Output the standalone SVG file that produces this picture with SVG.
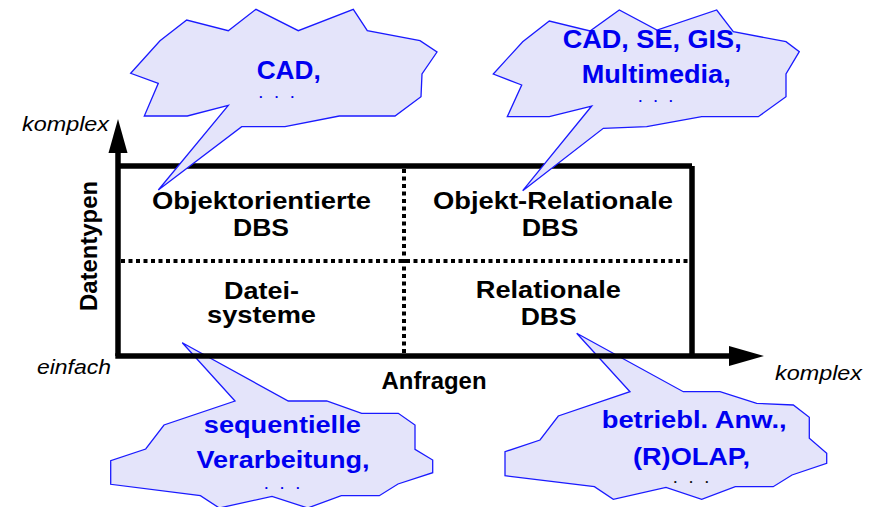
<svg xmlns="http://www.w3.org/2000/svg" width="883" height="507" viewBox="0 0 883 507">
<style>
.cloud{fill:#e4e4fa;stroke:#1a1aff;stroke-width:1.3;stroke-linejoin:miter}
.lbl{font-family:"Liberation Sans",Arial,sans-serif;font-weight:bold;font-size:23.5px;fill:#000;text-anchor:middle}
.ctx{font-family:"Liberation Sans",Arial,sans-serif;font-weight:bold;fill:#0000f0;text-anchor:middle}
.ax{font-family:"Liberation Sans",Arial,sans-serif;font-style:italic;font-size:20.5px;fill:#000}
.dots{font-family:"Liberation Sans",Arial,sans-serif;font-weight:bold;font-size:13px;text-anchor:middle}
.grid{stroke:#000;stroke-width:4;stroke-dasharray:4 3.5;fill:none}
.thick{stroke:#000;stroke-width:5.5;fill:none}
</style>
<rect width="883" height="507" fill="#fff"/>

<!-- bottom clouds (behind box lines) -->
<g id="cloud-sequentiell">
<polygon class="cloud" points="182.3,342.7 288.3,401 326.7,401 361.7,413.3 398.3,413.3 415,425 415,449.3 432.7,460 432.7,472.7 398,484 379.3,495.7 341.3,495.7 307.7,508 272,496.3 219.3,508 200.4,495.7 110.7,484.3 110.7,460.7 145.7,449 164,425 235,401"/>
<text class="ctx" x="282.3" y="433.3" font-size="24" textLength="157" lengthAdjust="spacingAndGlyphs">sequentielle</text>
<text class="ctx" x="283" y="468.3" font-size="24" textLength="173" lengthAdjust="spacingAndGlyphs">Verarbeitung,</text>
<text class="dots" x="282" y="489" fill="#0000f0" textLength="35" lengthAdjust="spacing">. . .</text>
</g>
<g id="cloud-betrieblich">
<polygon class="cloud" points="576.7,333.3 683.3,391.7 720,391.7 756.7,403.3 793.3,405 809.3,417.3 809.3,438.3 826.7,453.3 826.7,463.3 792,475 773.2,486.7 735.3,486.7 701.7,499.3 666,487.3 613.3,499.3 594.4,486.7 505,475.7 505,451.7 540,440 558.3,416 630,391.7"/>
<text class="ctx" x="694.2" y="428.3" font-size="24.5" textLength="185" lengthAdjust="spacingAndGlyphs">betriebl. Anw.,</text>
<text class="ctx" x="691.5" y="465" font-size="24.5" textLength="117" lengthAdjust="spacingAndGlyphs">(R)OLAP,</text>
<text class="dots" x="691" y="483" fill="#111" textLength="35" lengthAdjust="spacing">. . .</text>
</g>

<!-- axes and box -->
<g id="connectors">
<line class="thick" x1="118" y1="166" x2="692" y2="166"/>
<line class="thick" x1="692" y1="166" x2="692" y2="356"/>
<line class="thick" x1="118" y1="356" x2="118" y2="150"/>
<polygon points="118,119 108.5,153 127.5,153" fill="#000"/>
<line class="thick" x1="115.3" y1="356" x2="731" y2="356"/>
<polygon points="764,356 729,346 729,366" fill="#000"/>
<line class="grid" x1="121" y1="261" x2="690" y2="261"/>
<line class="grid" x1="404" y1="169" x2="404" y2="353"/>
</g>

<g id="axis-labels">
<text class="ax" x="22" y="131" textLength="87" lengthAdjust="spacingAndGlyphs">komplex</text>
<text class="ax" x="37" y="374" textLength="74" lengthAdjust="spacingAndGlyphs">einfach</text>
<text class="ax" x="775" y="380" textLength="87" lengthAdjust="spacingAndGlyphs">komplex</text>
<text class="lbl" x="434" y="389" font-size="20" textLength="105" lengthAdjust="spacingAndGlyphs">Anfragen</text>
<text class="lbl" transform="translate(96.5,246) rotate(-90)" x="0" y="0" font-size="22" textLength="130" lengthAdjust="spacingAndGlyphs">Datentypen</text>
</g>

<g id="node-oodbs">
<text class="lbl" x="261.5" y="209" textLength="219" lengthAdjust="spacingAndGlyphs">Objektorientierte</text>
<text class="lbl" x="261" y="235.5" textLength="56" lengthAdjust="spacingAndGlyphs">DBS</text>
</g>
<g id="node-ordbs">
<text class="lbl" x="553" y="209" textLength="240" lengthAdjust="spacingAndGlyphs">Objekt-Relationale</text>
<text class="lbl" x="550" y="235.5" textLength="56.5" lengthAdjust="spacingAndGlyphs">DBS</text>
</g>
<g id="node-dateisysteme">
<text class="lbl" x="261.5" y="299" textLength="75" lengthAdjust="spacingAndGlyphs">Datei-</text>
<text class="lbl" x="261.5" y="323" textLength="109" lengthAdjust="spacingAndGlyphs">systeme</text>
</g>
<g id="node-rdbs">
<text class="lbl" x="548.3" y="298" textLength="145" lengthAdjust="spacingAndGlyphs">Relationale</text>
<text class="lbl" x="548.7" y="325" textLength="56" lengthAdjust="spacingAndGlyphs">DBS</text>
</g>

<!-- top clouds (over box line) -->
<g id="cloud-cad">
<polygon class="cloud" points="130.7,73.3 160,40.7 186.7,20 228.3,30.7 256,9.3 298.3,30.7 353.3,9.3 367.3,30.7 420,40.7 437,52 422,74 421,96.7 395,116 339.3,116 285,126.7 241.7,126.7 158.3,190 228.3,105.3 187.3,116 144.3,116 158.3,83.3"/>
<text class="ctx" x="288.7" y="79.3" font-size="26.5" textLength="64" lengthAdjust="spacingAndGlyphs">CAD,</text>
<text class="dots" x="276.5" y="98" fill="#0000f0" textLength="35" lengthAdjust="spacing">. . .</text>
</g>
<g id="cloud-cad-se-gis">
<polygon class="cloud" points="493.3,74 522.7,41.7 549.3,21 590,31 619.3,10 657,30 716.7,10 733.3,31.7 786,41.7 799.3,51.7 786,74 786,96.7 758.3,116.7 701.7,116.7 646.7,126.7 603.3,128.3 522.7,190.7 591.7,106 549.3,116.7 507.3,116.7 521.7,85"/>
<text class="ctx" x="652.2" y="48.3" font-size="26.5" textLength="179" lengthAdjust="spacingAndGlyphs">CAD, SE, GIS,</text>
<text class="ctx" x="656.2" y="83.3" font-size="26.5" textLength="149" lengthAdjust="spacingAndGlyphs">Multimedia,</text>
<text class="dots" x="655.5" y="102" fill="#0000f0" textLength="34" lengthAdjust="spacing">. . .</text>
</g>
</svg>
